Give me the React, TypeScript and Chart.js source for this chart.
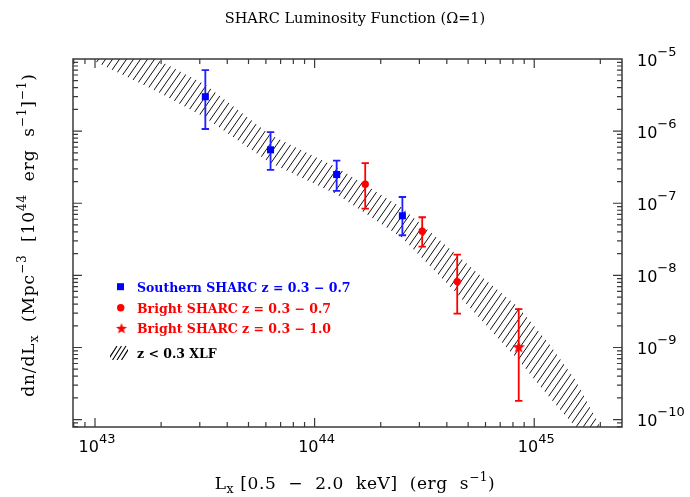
import React, { useEffect, useRef } from 'react';
import { Chart, registerables } from 'chart.js';
Chart.register(...registerables);

// ---------- data ----------
const southernL = [3.18e43, 6.3e43, 1.26e44, 2.51e44];
const southernPhi = [3.0e-6, 5.5e-7, 2.5e-7, 6.7e-8];
const southernLow = [1.07e-6, 2.9e-7, 1.48e-7, 3.6e-8];
const southernHigh = [7.0e-6, 9.7e-7, 3.9e-7, 1.22e-7];

const brightL = [1.7e44, 3.09e44, 4.46e44];
const brightPhi = [1.83e-7, 4.1e-8, 8.2e-9];
const brightLow = [8.4e-8, 2.5e-8, 2.95e-9];
const brightHigh = [3.6e-7, 6.4e-8, 1.94e-8];

const starL = [8.5e44];
const starPhi = [1.03e-9];
const starLow = [1.82e-10];
const starHigh = [3.4e-9];

const bandL = [8e42, 1e43, 1.92e43, 3.17e43, 6.27e43, 1.27e44, 2.5e44, 4.28e44, 5.86e44, 8.46e44, 1.18e45, 1.54e45, 2.0e45, 2.51e45];
const bandUpper = [4.15e-5, 2.82e-5, 9.84e-6, 4.43e-6, 8.93e-7, 3.11e-7, 8.65e-8, 2.12e-8, 9.22e-9, 3.65e-9, 1.08e-9, 3.54e-10, 7.87e-11, 2.57e-11];
const bandLower = [1.4e-5, 9.23e-6, 3.54e-6, 1.54e-6, 3.65e-7, 1.31e-7, 3.32e-8, 6.3e-9, 2.26e-9, 6.7e-10, 1.99e-10, 7.87e-11, 2.57e-11, 8.9e-12];

const xMin = 7.94e42;
const xMax = 2.51e45;
const yMin = 7.9e-11;
const yMax = 1e-5;

const xTickDecades = [43, 44, 45];
const yTickDecades = [-5, -6, -7, -8, -9, -10];

const titleText = 'SHARC Luminosity Function (Ω=1)';
const legendLabels = [
  'Southern SHARC z = 0.3 − 0.7',
  'Bright SHARC z = 0.3 − 0.7',
  'Bright SHARC z = 0.3 − 1.0',
  'z < 0.3 XLF',
];

const BLUE = '#0000ff';
const RED = '#ff0000';
const SERIF = '"DejaVu Serif"';
const SANS = '"DejaVu Sans"';

type Part = { t: string; s: number; dy: number };

function drawParts(ctx: CanvasRenderingContext2D, parts: Part[], x: number, y: number, align: string, family: string, weight = 'normal', ls = 0) {
  const measure = (p: Part) => {
    ctx.font = `${weight} ${p.s}px ${family}`;
    if (!ls) return ctx.measureText(p.t).width;
    let w = 0;
    for (const ch of p.t) w += ctx.measureText(ch).width + ls;
    return w;
  };
  let total = 0;
  const widths = parts.map((p) => measure(p));
  widths.forEach((w) => (total += w));
  let cx = align === 'center' ? x - total / 2 : align === 'right' ? x - total : x;
  ctx.textAlign = 'left';
  ctx.textBaseline = 'alphabetic';
  parts.forEach((p, i) => {
    ctx.font = `${weight} ${p.s}px ${family}`;
    if (!ls) {
      ctx.fillText(p.t, cx, y + p.dy);
    } else {
      let c = cx;
      for (const ch of p.t) {
        ctx.fillText(ch, c, y + p.dy);
        c += ctx.measureText(ch).width + ls;
      }
    }
    cx += widths[i];
  });
}

function makeHatch(ctx: CanvasRenderingContext2D): CanvasPattern {
  const c = document.createElement('canvas');
  const w = 7, h = 10;
  c.width = w;
  c.height = h;
  const g = c.getContext('2d')!;
  g.strokeStyle = '#111';
  g.lineWidth = 1;
  for (const off of [-w, 0, w]) {
    g.beginPath();
    g.moveTo(off, h);
    g.lineTo(off + w, 0);
    g.stroke();
  }
  return ctx.createPattern(c, 'repeat')!;
}

function makeStar(r: number, color: string): HTMLCanvasElement {
  const size = Math.ceil(r * 2 + 2);
  const c = document.createElement('canvas');
  c.width = size;
  c.height = size;
  const g = c.getContext('2d')!;
  g.fillStyle = color;
  g.beginPath();
  for (let i = 0; i < 10; i++) {
    const a = -Math.PI / 2 + (i * Math.PI) / 5;
    const rr = i % 2 === 0 ? r : r * 0.42;
    g.lineTo(size / 2 + rr * Math.cos(a), size / 2 + 0.8 + rr * Math.sin(a));
  }
  g.closePath();
  g.fill();
  return c;
}

export default function App() {
  const ref = useRef<HTMLCanvasElement>(null);

  useEffect(() => {
    const canvas = ref.current!;
    const ctx0 = canvas.getContext('2d')!;
    const hatch = makeHatch(ctx0);
    const star = makeStar(6.5, RED);
    const legendStar = makeStar(5.8, RED);

    const errorBars = {
      id: 'errorBars',
      beforeDatasetsDraw(chart: any) {
        const { ctx, scales } = chart;
        const x = scales.x, y = scales.y;
        const groups = [
          { L: southernL, lo: southernLow, hi: southernHigh, color: '#1f1fff' },
          { L: brightL, lo: brightLow, hi: brightHigh, color: RED },
          { L: starL, lo: starLow, hi: starHigh, color: RED },
        ];
        ctx.save();
        ctx.lineWidth = 1.8;
        for (const g of groups) {
          ctx.strokeStyle = g.color;
          g.L.forEach((l: number, i: number) => {
            const px = x.getPixelForValue(l);
            const y1 = y.getPixelForValue(g.lo[i]);
            const y2 = y.getPixelForValue(g.hi[i]);
            ctx.beginPath();
            ctx.moveTo(px, y1);
            ctx.lineTo(px, y2);
            ctx.moveTo(px - 3.7, y1);
            ctx.lineTo(px + 3.7, y1);
            ctx.moveTo(px - 3.7, y2);
            ctx.lineTo(px + 3.7, y2);
            ctx.stroke();
          });
        }
        ctx.restore();
      },
    };

    const decorations = {
      id: 'decorations',
      afterDraw(chart: any) {
        const { ctx, chartArea, scales } = chart;
        const x = scales.x, y = scales.y;
        const { left, right, top, bottom } = chartArea;
        ctx.save();
        // frame
        ctx.strokeStyle = '#3a3a3a';
        ctx.lineWidth = 1.5;
        ctx.strokeRect(left, top, right - left, bottom - top);
        // ticks
        ctx.lineWidth = 1.2;
        ctx.beginPath();
        for (let d = 42; d <= 45; d++) {
          for (let m = 1; m <= 9; m++) {
            const v = m * Math.pow(10, d);
            if (v <= xMin || v >= xMax) continue;
            const px = x.getPixelForValue(v);
            const len = m === 1 ? 9 : 5;
            ctx.moveTo(px, bottom);
            ctx.lineTo(px, bottom - len);
            ctx.moveTo(px, top);
            ctx.lineTo(px, top + len);
          }
        }
        for (let d = -11; d <= -5; d++) {
          for (let m = 1; m <= 9; m++) {
            const v = m * Math.pow(10, d);
            if (v <= yMin || v >= yMax) continue;
            const py = y.getPixelForValue(v);
            const len = m === 1 ? 9 : 5;
            ctx.moveTo(left, py);
            ctx.lineTo(left + len, py);
            ctx.moveTo(right, py);
            ctx.lineTo(right - len, py);
          }
        }
        ctx.stroke();

        // tick labels
        ctx.fillStyle = '#000';
        for (const d of xTickDecades) {
          const px = x.getPixelForValue(Math.pow(10, d));
          drawParts(ctx, [
            { t: '10', s: 16, dy: 0 },
            { t: String(d), s: 13, dy: -9 },
          ], px + 2, 452, 'center', SANS);
        }
        for (const d of yTickDecades) {
          const py = y.getPixelForValue(Math.pow(10, d));
          drawParts(ctx, [
            { t: '10', s: 16, dy: 0 },
            { t: '−' + String(-d), s: 13, dy: -10 },
          ], 637, py + 6.5, 'left', SANS);
        }

        // title
        drawParts(ctx, [{ t: titleText, s: 14.5, dy: 0 }], 355, 23, 'center', SERIF);

        // x axis title
        drawParts(ctx, [
          { t: 'L', s: 17, dy: 0 },
          { t: 'x', s: 12.5, dy: 4 },
          { t: ' [0.5  −  2.0  keV]  (erg  s', s: 17, dy: 0 },
          { t: '−1', s: 12, dy: -8 },
          { t: ')', s: 17, dy: 0 },
        ], 355, 489, 'center', SERIF, 'normal', 0.6);

        // y axis title
        ctx.save();
        ctx.translate(34, 235);
        ctx.rotate(-Math.PI / 2);
        drawParts(ctx, [
          { t: 'dn/dL', s: 17, dy: 0 },
          { t: 'x', s: 12.5, dy: 4 },
          { t: '  (Mpc', s: 17, dy: 0 },
          { t: '−3', s: 12, dy: -8 },
          { t: '  [10', s: 17, dy: 0 },
          { t: '44', s: 12, dy: -8 },
          { t: '  erg  s', s: 17, dy: 0 },
          { t: '−1', s: 12, dy: -8 },
          { t: ']', s: 17, dy: 0 },
          { t: '−1', s: 12, dy: -8 },
          { t: ')', s: 17, dy: 0 },
        ], 0, 0, 'center', SERIF, 'normal', 0.9);
        ctx.restore();

        // legend
        const tx = 137;
        const rows = [286.7, 307.7, 328.3, 353.3];
        const colors = [BLUE, RED, RED, '#000'];
        ctx.fillStyle = BLUE;
        ctx.fillRect(117, 283.2, 7, 7);
        ctx.fillStyle = RED;
        ctx.beginPath();
        ctx.arc(120.7, 307.7, 3.7, 0, Math.PI * 2);
        ctx.fill();
        ctx.drawImage(legendStar, 121.5 - legendStar.width / 2, 328 - legendStar.height / 2);
        ctx.strokeStyle = '#000';
        ctx.lineWidth = 1.1;
        ctx.beginPath();
        for (let k = 0; k < 4; k++) {
          const ox = 108 + k * 4.5;
          ctx.moveTo(ox, 360);
          ctx.lineTo(ox + 9, 346);
        }
        ctx.save();
        ctx.beginPath();
        ctx.rect(110, 345, 18, 15);
        ctx.clip();
        ctx.beginPath();
        for (let k = 0; k < 4; k++) {
          const ox = 108 + k * 4.5;
          ctx.moveTo(ox, 360);
          ctx.lineTo(ox + 9, 346);
        }
        ctx.stroke();
        ctx.restore();
        legendLabels.forEach((lab, i) => {
          ctx.fillStyle = colors[i];
          drawParts(ctx, [{ t: lab, s: 12.5, dy: 0 }], tx, rows[i] + 5, 'left', SERIF, 'bold');
        });
        ctx.restore();
      },
    };

    const chart = new Chart(canvas, {
      type: 'scatter',
      data: {
        datasets: [
          {
            label: 'Southern SHARC',
            data: southernL.map((l, i) => ({ x: l, y: southernPhi[i] })),
            pointStyle: 'rect',
            pointRadius: 5,
            backgroundColor: BLUE,
            borderColor: BLUE,
            borderWidth: 0,
            showLine: false,
          },
          {
            label: 'Bright SHARC 0.3-0.7',
            data: brightL.map((l, i) => ({ x: l, y: brightPhi[i] })),
            pointStyle: 'circle',
            pointRadius: 3.7,
            backgroundColor: RED,
            borderColor: RED,
            borderWidth: 0,
            showLine: false,
          },
          {
            label: 'Bright SHARC 0.3-1.0',
            data: starL.map((l, i) => ({ x: l, y: starPhi[i] })),
            pointStyle: star as any,
            pointRadius: 6,
            backgroundColor: RED,
            borderColor: RED,
            showLine: false,
          },
          {
            label: 'XLF upper',
            data: bandL.map((l, i) => ({ x: l, y: bandUpper[i] })),
            showLine: true,
            pointRadius: 0,
            borderColor: 'transparent',
            borderWidth: 1,
            backgroundColor: hatch as any,
            fill: '+1',
          },
          {
            label: 'XLF lower',
            data: bandL.map((l, i) => ({ x: l, y: bandLower[i] })),
            showLine: true,
            pointRadius: 0,
            borderColor: 'transparent',
            borderWidth: 1,
            fill: false,
          },
        ],
      },
      options: {
        responsive: false,
        animation: false,
        devicePixelRatio: 1,
        events: [],
        layout: { padding: { left: 73, right: 68, top: 59, bottom: 70 } },
        scales: {
          x: { type: 'logarithmic', min: xMin, max: xMax, display: false },
          y: { type: 'logarithmic', min: yMin, max: yMax, display: false },
        },
        plugins: {
          legend: { display: false },
          tooltip: { enabled: false },
          title: { display: false },
          filler: { drawTime: 'beforeDatasetsDraw' } as any,
        },
      },
      plugins: [errorBars, decorations],
    });
    return () => chart.destroy();
  }, []);

  return (
    <div style={{ position: 'absolute', left: 0, top: 0, width: 690, height: 497, background: '#fff' }}>
      <canvas ref={ref} width={690} height={497} style={{ display: 'block' }} />
    </div>
  );
}
